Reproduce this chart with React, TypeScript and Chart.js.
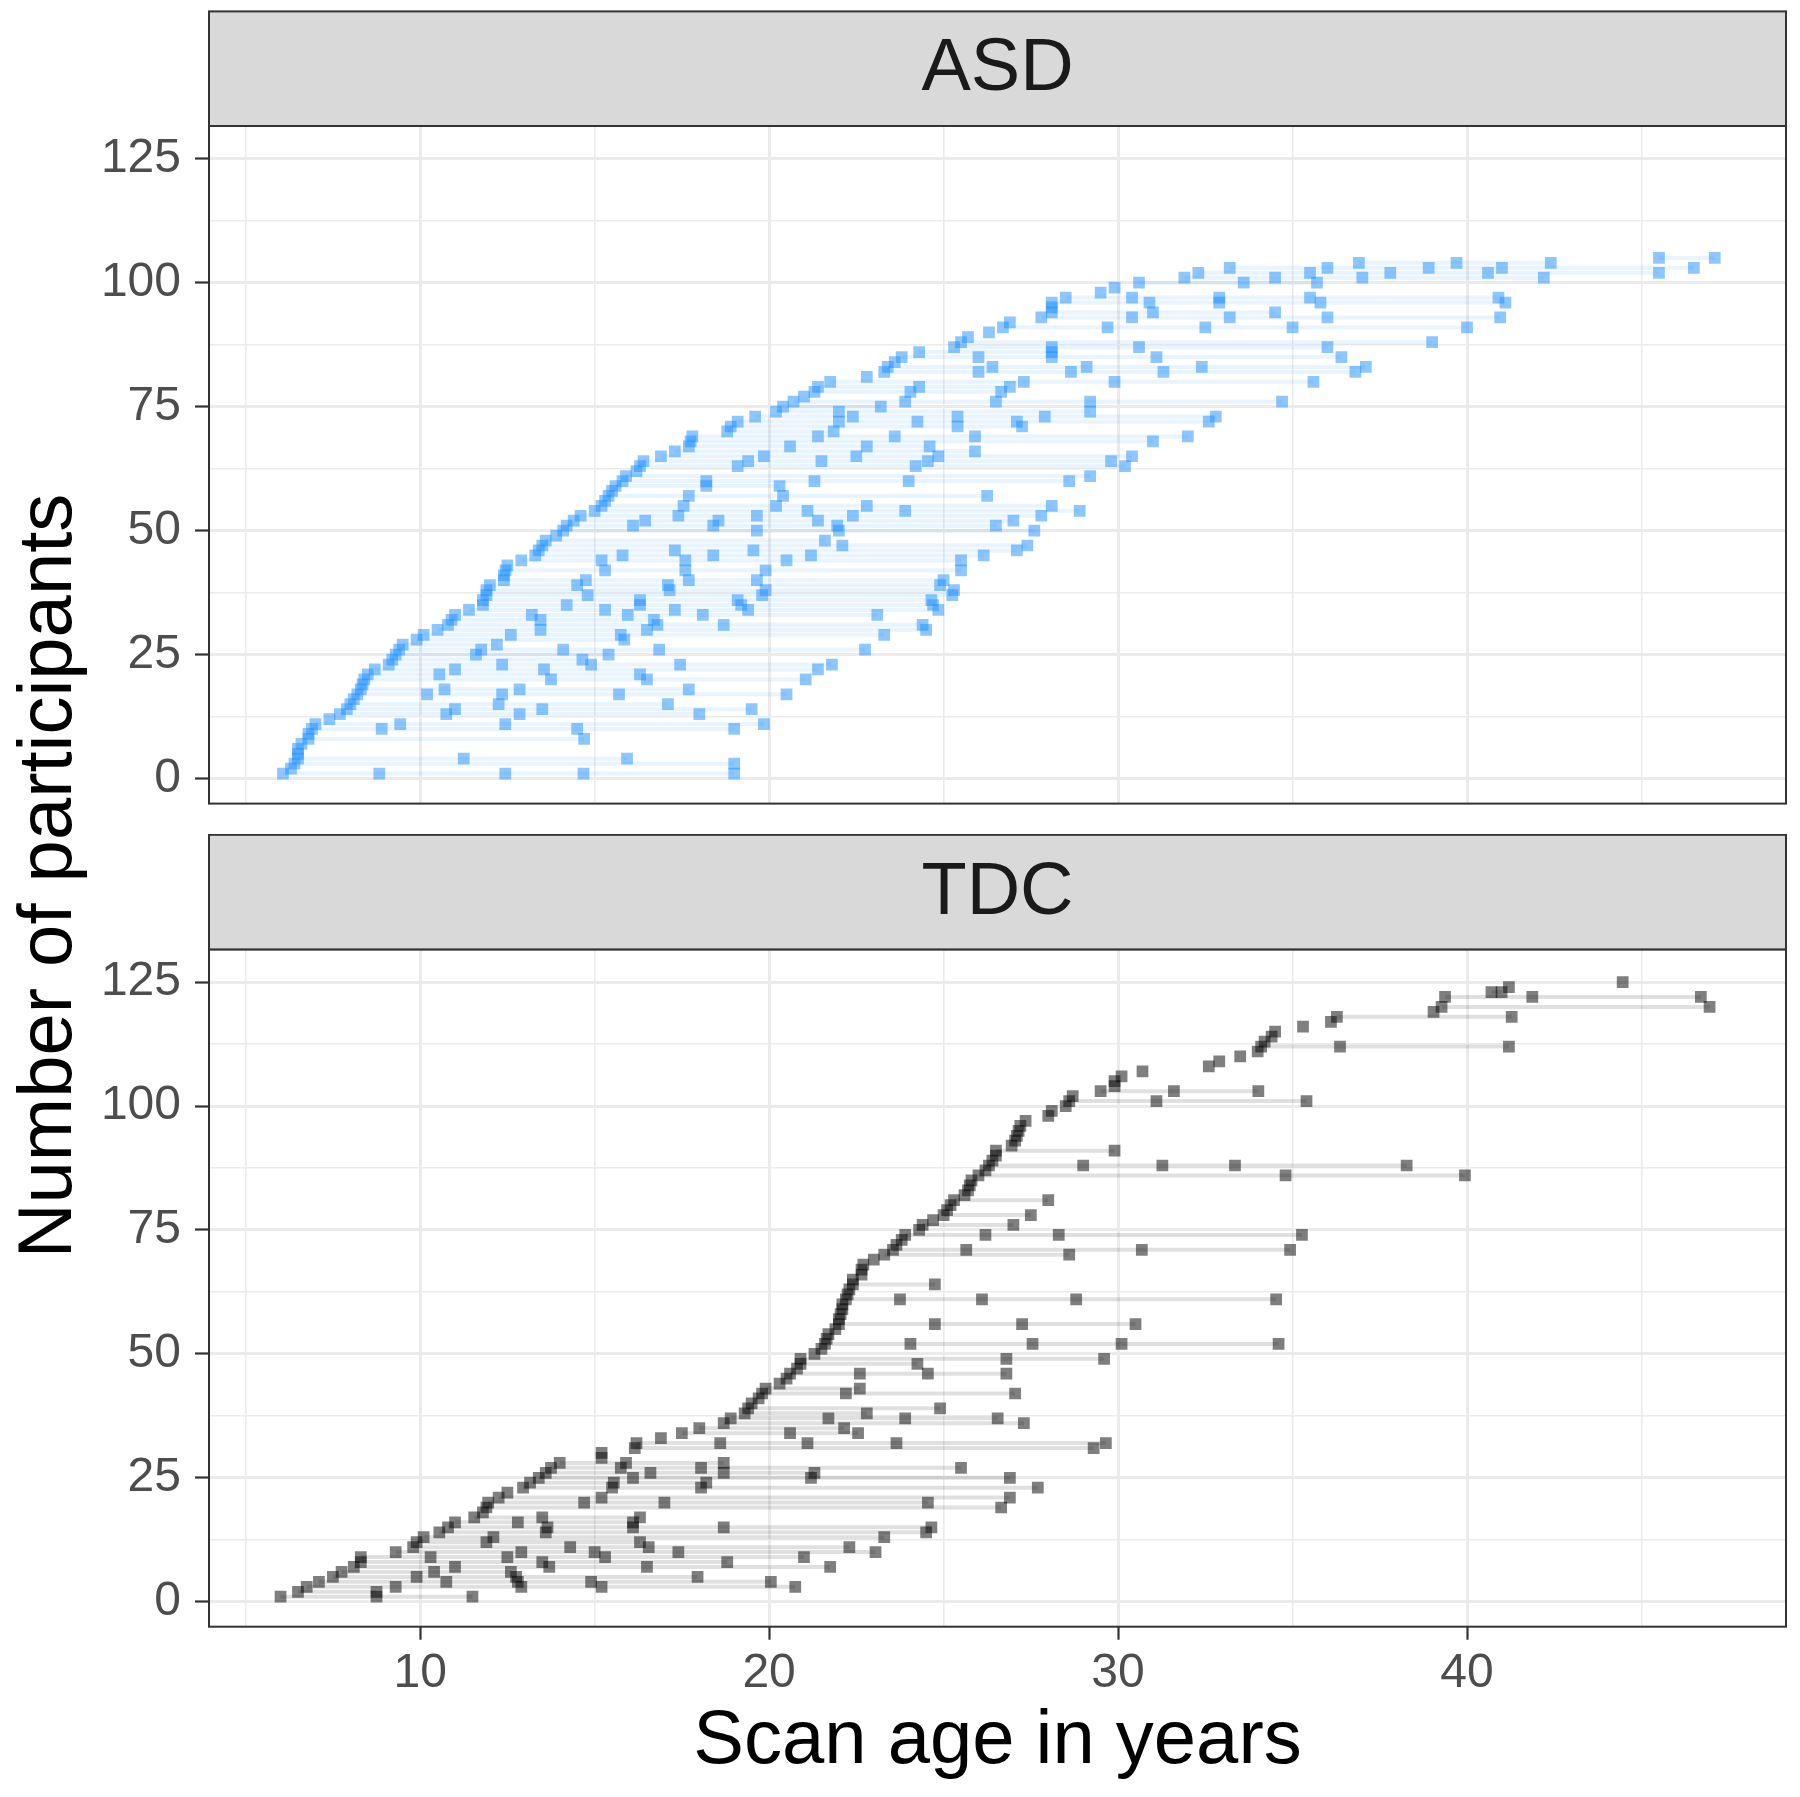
import React, { useEffect, useRef } from 'react';
import { Chart, registerables } from 'chart.js';

Chart.register(...registerables);

const FONT = '"Liberation Sans", Arial, Helvetica, sans-serif';

// ---- axis ticks ----
const ageTicks = [10, 20, 30, 40];
const ageTickLabels = ['10', '20', '30', '40'];
const ageMinorTicks = [5, 15, 25, 35, 45];
const countTicks = [0, 25, 50, 75, 100, 125];
const countTickLabels = ['0', '25', '50', '75', '100', '125'];
const countMinorTicks = [12.5, 37.5, 62.5, 87.5, 112.5];
const ageRange = [3.95, 49.14];
const countRange = [-5.05, 131.6];

// ---- panel labels / titles ----
const panelNames = ['ASD', 'TDC'];
const xTitle = 'Scan age in years';
const yTitle = 'Number of participants';

// ---- data: scan ages (years) for each participant; participant n is row n (1-based) ----
const asdScanAges: number[][] = [
  [6.07, 8.83, 12.44, 14.68, 19.0],
  [6.3],
  [6.4, 19.0],
  [6.5, 11.25, 15.93],
  [6.5],
  [6.5],
  [6.6],
  [6.8, 14.7],
  [6.8],
  [6.9, 8.9, 14.5, 19.0],
  [7.0, 9.43, 12.44, 19.85],
  [7.4],
  [7.7, 10.75, 12.85, 18.0],
  [7.9, 11.0, 13.5, 19.5],
  [8.0, 12.25, 17.1],
  [8.1],
  [8.2, 10.2, 12.35, 15.7, 20.5],
  [8.3, 10.7, 12.85, 17.7],
  [8.35],
  [8.4, 13.75, 16.5, 21.05],
  [8.5, 10.55, 16.3],
  [8.7, 11.0, 13.55, 21.4],
  [9.1, 12.35, 14.9, 17.45, 21.8],
  [9.2, 14.65],
  [9.3, 11.6, 15.4],
  [9.4, 11.75, 14.1, 16.85, 22.75],
  [9.5, 12.2],
  [9.9, 15.85],
  [10.1, 12.6, 15.75, 23.3],
  [10.5, 13.45, 16.5, 24.5],
  [10.8, 16.8, 18.7, 24.4],
  [10.9, 13.45, 16.7],
  [11.0, 13.2, 15.95, 18.1, 23.1],
  [11.4, 15.3, 17.3, 19.4, 24.85],
  [11.8, 14.2, 16.3, 19.2, 24.7],
  [11.8, 16.3, 19.1, 24.65],
  [11.9, 14.8, 19.8, 25.25],
  [11.9, 17.15, 19.9, 25.3],
  [12.0, 14.5, 17.1, 24.9],
  [12.4, 14.75, 17.7, 19.65, 25.0],
  [12.4],
  [12.45, 15.3, 17.6, 19.9, 25.5],
  [12.5],
  [12.9, 15.2, 17.6, 20.5, 25.5],
  [13.3, 15.8, 18.4, 21.2, 26.15],
  [13.4, 17.3, 19.55, 27.1],
  [13.5, 22.1, 27.4],
  [13.6, 21.6],
  [13.9],
  [14.1, 19.65, 22.0, 27.6],
  [14.2, 16.1, 18.4, 21.95, 26.5],
  [14.4, 16.45, 18.55, 21.4, 27.0],
  [14.6, 17.4, 19.65, 22.4, 27.8],
  [15.0, 21.1, 23.9, 28.9],
  [15.2, 17.55, 20.2, 22.8, 28.1],
  [15.3],
  [15.4, 17.7, 20.4, 26.25],
  [15.5],
  [15.6, 18.2, 20.3],
  [15.8, 18.2, 21.3, 24.0, 28.6],
  [15.9, 29.2],
  [16.2],
  [16.3, 19.1, 24.2, 30.2],
  [16.4, 19.4, 21.5, 24.55, 29.8],
  [16.9, 19.85, 22.5, 24.85, 30.4],
  [17.3, 25.9],
  [17.7, 20.6, 22.8, 24.6],
  [17.75, 31.0],
  [17.8, 21.4, 23.6, 25.9, 32.0],
  [18.8, 21.85],
  [18.9, 25.4, 27.25],
  [19.1, 22.0, 24.25, 27.1, 32.6],
  [19.6, 22.4, 25.4, 27.9, 32.8],
  [20.2, 22.0, 29.2],
  [20.4, 23.2],
  [20.7, 23.9, 26.5, 29.2, 34.7],
  [21.0],
  [21.3, 24.05, 26.65],
  [21.4, 24.3, 26.9],
  [21.75, 27.3, 29.9, 35.6],
  [22.8],
  [23.3, 26.0, 28.65, 31.3, 36.8],
  [23.4, 26.4, 29.1, 32.4, 37.1],
  [23.6],
  [23.8, 26.0, 28.1, 31.1, 36.4],
  [24.3, 28.1],
  [25.3, 28.1, 30.6, 36.0],
  [25.5, 39.0],
  [25.7],
  [26.3],
  [26.7, 29.7, 32.5, 35.0, 40.0],
  [26.9],
  [27.8, 30.4, 33.2, 36.0, 40.95],
  [28.1, 31.0, 34.5],
  [28.1],
  [28.1, 30.9, 32.9, 35.8, 41.1],
  [28.5, 30.4, 32.9, 35.5, 40.9],
  [29.5],
  [29.9],
  [30.6, 33.6, 35.7],
  [31.9, 34.5, 37.0, 42.2],
  [32.3, 35.5, 37.8, 40.6, 45.5],
  [33.2, 36.0, 38.9, 41.0, 46.5],
  [36.9, 39.7, 42.4],
  [45.5, 47.1],
];

const tdcScanAges: number[][] = [
  [6.0, 8.75, 11.5],
  [6.5, 8.75],
  [6.75, 9.3, 12.9, 15.2, 20.75],
  [7.1, 10.75, 12.8, 14.9, 20.05],
  [7.5, 9.9, 12.75, 17.95],
  [7.75, 10.4, 12.6],
  [8.1, 11.0, 13.7, 16.5, 21.75],
  [8.3, 13.5, 18.8],
  [8.3, 10.3, 12.5, 15.3, 21.0],
  [9.3, 12.9, 15.0, 17.4, 23.05],
  [9.8, 14.3, 16.55, 22.3],
  [9.9, 11.9, 16.3],
  [10.1, 12.1, 23.3],
  [10.55, 13.6, 24.5],
  [10.8, 13.65, 16.1, 18.7, 24.65],
  [11.0, 12.8, 16.1],
  [11.55, 13.5, 16.3],
  [11.8],
  [11.9, 26.65],
  [11.95, 14.7, 17.0, 24.55],
  [12.25, 15.2, 26.9],
  [12.5],
  [12.95, 15.5, 18.05, 27.7],
  [13.15, 15.55, 18.2],
  [13.4, 16.1, 21.2, 26.9],
  [13.6, 16.6, 18.7, 21.3],
  [13.75, 15.75, 18.05, 25.5],
  [14.0, 15.9, 18.7],
  [15.2],
  [15.2],
  [16.15, 29.3],
  [16.2, 18.6, 21.1, 23.65, 29.65],
  [16.9],
  [17.5, 20.6, 22.55],
  [18.0, 22.15],
  [18.7, 27.3],
  [18.9, 21.7, 23.9, 26.55],
  [19.3, 22.8],
  [19.4, 24.9],
  [19.5],
  [19.7],
  [19.8, 22.2, 27.05],
  [19.9, 22.6],
  [20.3],
  [20.5],
  [20.6, 22.6, 24.55, 26.8],
  [20.8],
  [20.9, 24.25],
  [20.9, 26.8, 29.6],
  [21.3],
  [21.5],
  [21.6, 24.05, 27.55, 30.1, 34.6],
  [21.65],
  [21.7],
  [21.9],
  [22.0, 24.75, 27.25, 30.5],
  [22.0],
  [22.05],
  [22.1],
  [22.1],
  [22.2, 23.75, 26.1, 28.8, 34.53],
  [22.25],
  [22.3],
  [22.4, 24.75],
  [22.4],
  [22.65],
  [22.65],
  [22.7],
  [23.0],
  [23.3, 28.6],
  [23.55, 25.65, 30.68, 34.93],
  [23.65],
  [23.8],
  [23.9, 26.2, 28.3, 35.27],
  [24.3],
  [24.4, 27.0],
  [24.7],
  [25.0, 27.5],
  [25.1],
  [25.2],
  [25.3, 28.0],
  [25.6],
  [25.7],
  [25.75],
  [25.8],
  [26.0, 34.8, 39.94],
  [26.2],
  [26.3, 29.0, 31.27, 33.35, 38.27],
  [26.4],
  [26.5],
  [26.5, 29.9],
  [26.95],
  [27.05],
  [27.1],
  [27.15],
  [27.2],
  [27.35],
  [28.0],
  [28.1],
  [28.5],
  [28.6, 31.1, 35.4],
  [28.7],
  [29.5, 31.6, 34.02],
  [29.9],
  [29.9],
  [30.1],
  [30.7],
  [32.6],
  [32.9],
  [33.5],
  [34.0],
  [34.1, 36.36, 41.2],
  [34.2],
  [34.4],
  [34.5],
  [35.3],
  [36.1],
  [36.27, 41.28],
  [39.04],
  [39.27, 46.95],
  [],
  [39.37, 41.87, 46.7],
  [40.7, 40.99],
  [41.2],
  [44.46],
];

// ---- styles ----
const asdPointColor = 'rgba(30,144,255,0.5)';
const asdLineColor = 'rgba(30,144,255,0.1)';
const tdcPointColor = 'rgba(0,0,0,0.5)';
const tdcLineColor = 'rgba(0,0,0,0.12)';

const STRIP_H = 114.6;

const facetPlugin = {
  id: 'facet',
  afterDraw(chart: any, _args: any, opts: any) {
    const { ctx, chartArea: a } = chart;
    ctx.save();
    ctx.strokeStyle = '#333333';
    ctx.lineWidth = 2;
    ctx.strokeRect(a.left, a.top, a.right - a.left, a.bottom - a.top);
    ctx.fillStyle = '#D9D9D9';
    ctx.fillRect(a.left, a.top - STRIP_H, a.right - a.left, STRIP_H);
    ctx.strokeRect(a.left, a.top - STRIP_H, a.right - a.left, STRIP_H);
    ctx.fillStyle = '#1A1A1A';
    ctx.font = `74px ${FONT}`;
    ctx.textAlign = 'center';
    ctx.textBaseline = 'middle';
    ctx.fillText(opts.label, (a.left + a.right) / 2, a.top - STRIP_H / 2 + 1);
    ctx.restore();
  },
};

function makeConfig(label: string, scans: number[][], pointColor: string, lineColor: string, bottom: boolean): any {
  const pts: { x: number; y: number }[] = [];
  scans.forEach((ages, i) => ages.forEach((a) => pts.push({ x: a, y: i + 1 })));
  const datasets: any[] = [
    {
      data: pts,
      showLine: false,
      pointStyle: 'rect',
      pointRadius: 8.3,
      pointHoverRadius: 8.3,
      pointBackgroundColor: pointColor,
      backgroundColor: pointColor,
      pointBorderWidth: 0,
      borderWidth: 0,
      order: 0,
    },
  ];
  scans.forEach((ages, i) => {
    if (ages.length < 2) return;
    const sorted = [...ages].sort((p, q) => p - q);
    datasets.push({
      data: sorted.map((a) => ({ x: a, y: i + 1 })),
      borderColor: lineColor,
      borderWidth: 4,
      pointRadius: 0,
      pointHoverRadius: 0,
      fill: false,
      tension: 0,
      order: 1,
    });
  });
  const xGrid = [...ageTicks, ...ageMinorTicks].sort((p, q) => p - q);
  const yGrid = [...countTicks, ...countMinorTicks].sort((p, q) => p - q);
  const xMajor = (v: number) => ageTicks.includes(v);
  const yMajor = (v: number) => countTicks.includes(v);
  return {
    type: 'line',
    data: { datasets },
    options: {
      responsive: false,
      animation: false,
      devicePixelRatio: 1,
      events: [],
      layout: {
        autoPadding: false,
        padding: bottom
          ? { top: 115.4, left: 0, right: 14, bottom: 0 }
          : { top: 126, left: 0, right: 14, bottom: 30.4 },
      },
      plugins: { legend: { display: false }, tooltip: { enabled: false }, facet: { label } },
      scales: {
        x: {
          type: 'linear',
          min: ageRange[0],
          max: ageRange[1],
          afterBuildTicks: (s: any) => {
            s.ticks = xGrid.map((v) => ({ value: v }));
          },
          afterFit: (s: any) => {
            s.height = bottom ? 170.3 : 0;
            s.paddingLeft = 0;
            s.paddingRight = 0;
          },
          border: { display: false },
          grid: {
            color: '#EBEBEB',
            lineWidth: (c: any) => (xMajor(c.tick?.value) ? 3 : 1.6),
            drawTicks: bottom,
            tickLength: 13,
            tickWidth: 2.2,
            tickColor: (c: any) => (xMajor(c.tick?.value) ? '#333333' : 'rgba(0,0,0,0)'),
          },
          ticks: {
            display: bottom,
            autoSkip: false,
            maxRotation: 0,
            minRotation: 0,
            padding: 5,
            color: '#4D4D4D',
            font: { family: FONT, size: 48 },
            callback: (v: number) => {
              const k = ageTicks.indexOf(v);
              return k >= 0 ? ageTickLabels[k] : '';
            },
          },
          title: {
            display: bottom,
            text: xTitle,
            color: '#000000',
            font: { family: FONT, size: 76 },
            padding: { top: 0, bottom: 9.4 },
          },
        },
        y: {
          type: 'linear',
          min: countRange[0],
          max: countRange[1],
          afterBuildTicks: (s: any) => {
            s.ticks = yGrid.map((v) => ({ value: v }));
          },
          afterFit: (s: any) => {
            s.width = 209;
            s.paddingTop = 0;
            s.paddingBottom = 0;
          },
          border: { display: false },
          grid: {
            color: '#EBEBEB',
            lineWidth: (c: any) => (yMajor(c.tick?.value) ? 3 : 1.6),
            drawTicks: true,
            tickLength: 14,
            tickWidth: 2.2,
            tickColor: (c: any) => (yMajor(c.tick?.value) ? '#333333' : 'rgba(0,0,0,0)'),
          },
          ticks: {
            autoSkip: false,
            padding: 14,
            color: '#4D4D4D',
            font: { family: FONT, size: 48 },
            callback: (v: number) => {
              const k = countTicks.indexOf(v);
              return k >= 0 ? countTickLabels[k] : '';
            },
          },
        },
      },
    },
    plugins: [facetPlugin],
  };
}

export default function App() {
  const refA = useRef<HTMLCanvasElement>(null);
  const refB = useRef<HTMLCanvasElement>(null);

  useEffect(() => {
    const a = new Chart(refA.current as HTMLCanvasElement, makeConfig(panelNames[0], asdScanAges, asdPointColor, asdLineColor, false));
    const b = new Chart(refB.current as HTMLCanvasElement, makeConfig(panelNames[1], tdcScanAges, tdcPointColor, tdcLineColor, true));
    return () => {
      a.destroy();
      b.destroy();
    };
  }, []);

  return (
    <div style={{ position: 'absolute', left: 0, top: 0, width: 1800, height: 1797, background: '#ffffff', overflow: 'hidden' }}>
      <canvas ref={refA} width={1800} height={834} style={{ position: 'absolute', left: 0, top: 0, width: 1800, height: 834 }} />
      <canvas ref={refB} width={1800} height={963} style={{ position: 'absolute', left: 0, top: 834, width: 1800, height: 963 }} />
      <div
        style={{
          position: 'absolute',
          left: 45 - 600,
          top: 876 - 46,
          width: 1200,
          height: 92,
          lineHeight: '92px',
          textAlign: 'center',
          fontFamily: FONT,
          fontSize: 76,
          color: '#000000',
          transform: 'rotate(-90deg)',
          whiteSpace: 'nowrap',
        }}
      >
        {yTitle}
      </div>
    </div>
  );
}
